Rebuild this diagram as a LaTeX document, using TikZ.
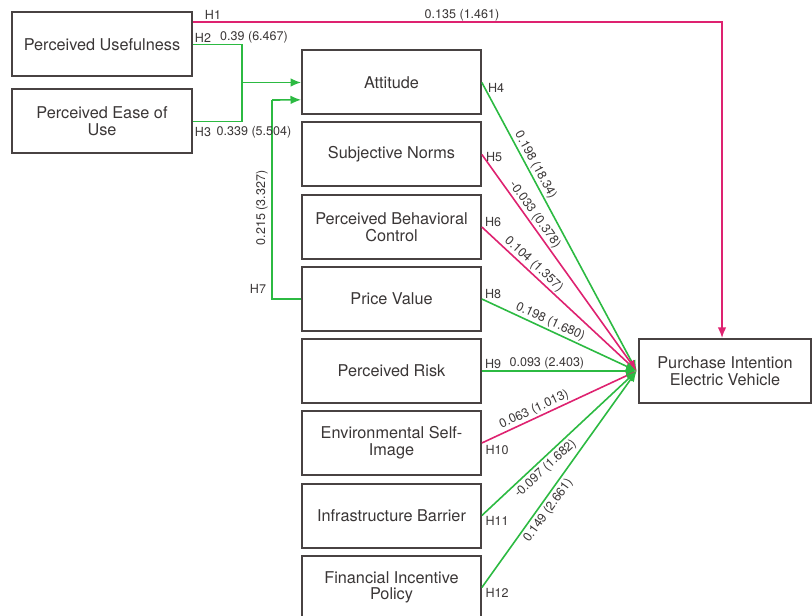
\documentclass[tikz,border=0pt]{standalone}
\usepackage{fontspec}
\setmainfont{TeX Gyre Heros}
\usetikzlibrary{arrows.meta}

\definecolor{pathgreen}{RGB}{44,186,66}
\definecolor{pathred}{RGB}{222,34,112}
\definecolor{boxgray}{RGB}{72,66,66}
\definecolor{textgray}{RGB}{58,54,54}

\tikzset{
	construct/.style={draw=boxgray, line width=1.5pt, text=textgray, align=center,
		minimum width=134pt, minimum height=48pt, inner sep=1pt, font=\fontsize{12.2}{12.5}\selectfont},
	sigpath/.style={draw=pathgreen, line width=1.2pt},
	nspath/.style={draw=pathred, line width=1.2pt},
	tip/.style={-{Latex[length=8pt,width=6.5pt]}},
	coef/.style={text=textgray, inner sep=1pt, font=\fontsize{9.4}{10}\selectfont}}
\tikzset{every picture/.style={line width=0.75pt}}

\begin{document}
\begin{tikzpicture}[x=0.75pt,y=0.75pt,yscale=-1,xscale=1]
	\useasboundingbox (0,0) rectangle (812,616);

	%Shape: Rectangle [id:pu] 
	\node [construct, minimum width=135pt] (pu) at (102,44.5) {Perceived Usefulness};
	%Shape: Rectangle [id:peou] 
	\node [construct, minimum width=135pt] (peou) at (102,121.5) {Perceived Ease of\\Use};
	%Shape: Rectangle [id:att] 
	\node [construct] (att) at (391.5,82.5) {Attitude};
	%Shape: Rectangle [id:sn] 
	\node [construct] (sn) at (391.5,154.5) {Subjective Norms};
	%Shape: Rectangle [id:pbc] 
	\node [construct] (pbc) at (391.5,227) {Perceived Behavioral\\Control};
	%Shape: Rectangle [id:pv] 
	\node [construct] (pv) at (391.5,299) {Price Value};
	%Shape: Rectangle [id:pr] 
	\node [construct] (pr) at (391.5,371) {Perceived Risk};
	%Shape: Rectangle [id:esi] 
	\node [construct] (esi) at (391.5,443) {Environmental Self-\\Image};
	%Shape: Rectangle [id:ib] 
	\node [construct] (ib) at (391.5,515.5) {Infrastructure Barrier};
	%Shape: Rectangle [id:fip] 
	\node [construct] (fip) at (391.5,587.5) {Financial Incentive\\Policy};
	%Shape: Rectangle [id:pi] 
	\node [construct, minimum width=129pt] (pi) at (725,371) {Purchase Intention\\Electric Vehicle};

	%Coordinates for the elbow paths
	\coordinate (h1) at ([yshift=-17pt]pu.east);
	\coordinate (pitop) at ([xshift=-2.25pt]pi.north);
	\coordinate (jn) at (242,82.5);
	\coordinate (h7) at (272,100);
	\coordinate (att7) at ([yshift=13pt]att.west);
	\coordinate (piin) at ([xshift=-1pt]pi.west);

	%Elbow Lines [id:H1] 
	\draw [nspath, tip] (h1) -| (pitop);
	%Elbow Lines [id:H2] 
	\draw [sigpath] (pu.east) -| (jn);
	%Elbow Lines [id:H3] 
	\draw [sigpath] (peou.east) -| (jn);
	%Straight Lines [id:H23] 
	\draw [sigpath, tip] (jn) -- (att.west);
	%Elbow Lines [id:H7] 
	\draw [sigpath] (pv.west) -| (h7);
	\draw [sigpath, tip] (h7) -- (att7);

	%Straight Lines [id:H4] 
	\draw [sigpath, tip] (att.east) -- node [coef, pos=0.3, rotate=-61.6, anchor=south] (c4) {0.198 (18.34)} (piin);
	%Straight Lines [id:H5] 
	\draw [nspath, tip] (sn.east) -- node [coef, pos=0.3, rotate=-54.3, anchor=south] (c5) {-0.033 (0.378)} (piin);
	%Straight Lines [id:H6] 
	\draw [nspath, tip] (pbc.east) -- node [coef, pos=0.3, rotate=-42.7, anchor=south] (c6) {0.104 (1.357)} (piin);
	%Straight Lines [id:H8] 
	\draw [sigpath, tip] (pv.east) -- node [coef, pos=0.42, rotate=-24.8, anchor=south] (c8) {0.198 (1.680)} (piin);
	%Straight Lines [id:H10] 
	\draw [nspath, tip] (esi.east) -- node [coef, pos=0.36, rotate=24.8, anchor=south] (c10) {0.063 (1.013)} (piin);
	%Straight Lines [id:H11] 
	\draw [sigpath, tip] (ib.east) -- node [coef, pos=0.37, rotate=42.7, anchor=north, inner ysep=2pt] (c11) {-0.097 (1.682)} (piin);
	%Straight Lines [id:H12] 
	\draw [sigpath, tip] (fip.east) -- node [coef, pos=0.38, rotate=54.2, anchor=north, inner ysep=2pt] (c12) {0.149 (2.661)} (piin);
	%Straight Lines [id:H9] 
	\draw [sigpath, tip] (pr.east) -- node [coef, above, pos=0.42] (c9) {0.093 (2.403)} (piin);

	% Text Node
	\node [coef] (t1) at (213,15) {H1};
	% Text Node
	\node [coef] (c1) at (462,15) {0.135 (1.461)};
	% Text Node
	\node [coef] (t2) at (203,38) {H2};
	% Text Node
	\node [coef] (c2) at (254,37) {0.39 (6.467)};
	% Text Node
	\node [coef] (t3) at (203,132) {H3};
	% Text Node
	\node [coef] (c3) at (254,132) {0.339 (5.504)};
	% Text Node
	\node [coef, rotate=90] (c7) at (262,208) {0.215 (3.327)};
	% Text Node
	\node [coef] (t7) at (258,289) {H7};
	% Text Node
	\node [coef] (t4) at (496,88) {H4};
	% Text Node
	\node [coef] (t5) at (494,157) {H5};
	% Text Node
	\node [coef] (t6) at (493,222) {H6};
	% Text Node
	\node [coef] (t8) at (493,294) {H8};
	% Text Node
	\node [coef] (t9) at (493,364) {H9};
	% Text Node
	\node [coef] (t10) at (497,450) {H10};
	% Text Node
	\node [coef] (t11) at (497,521) {H11};
	% Text Node
	\node [coef] (t12) at (497,593) {H12};

\end{tikzpicture}
\end{document}
